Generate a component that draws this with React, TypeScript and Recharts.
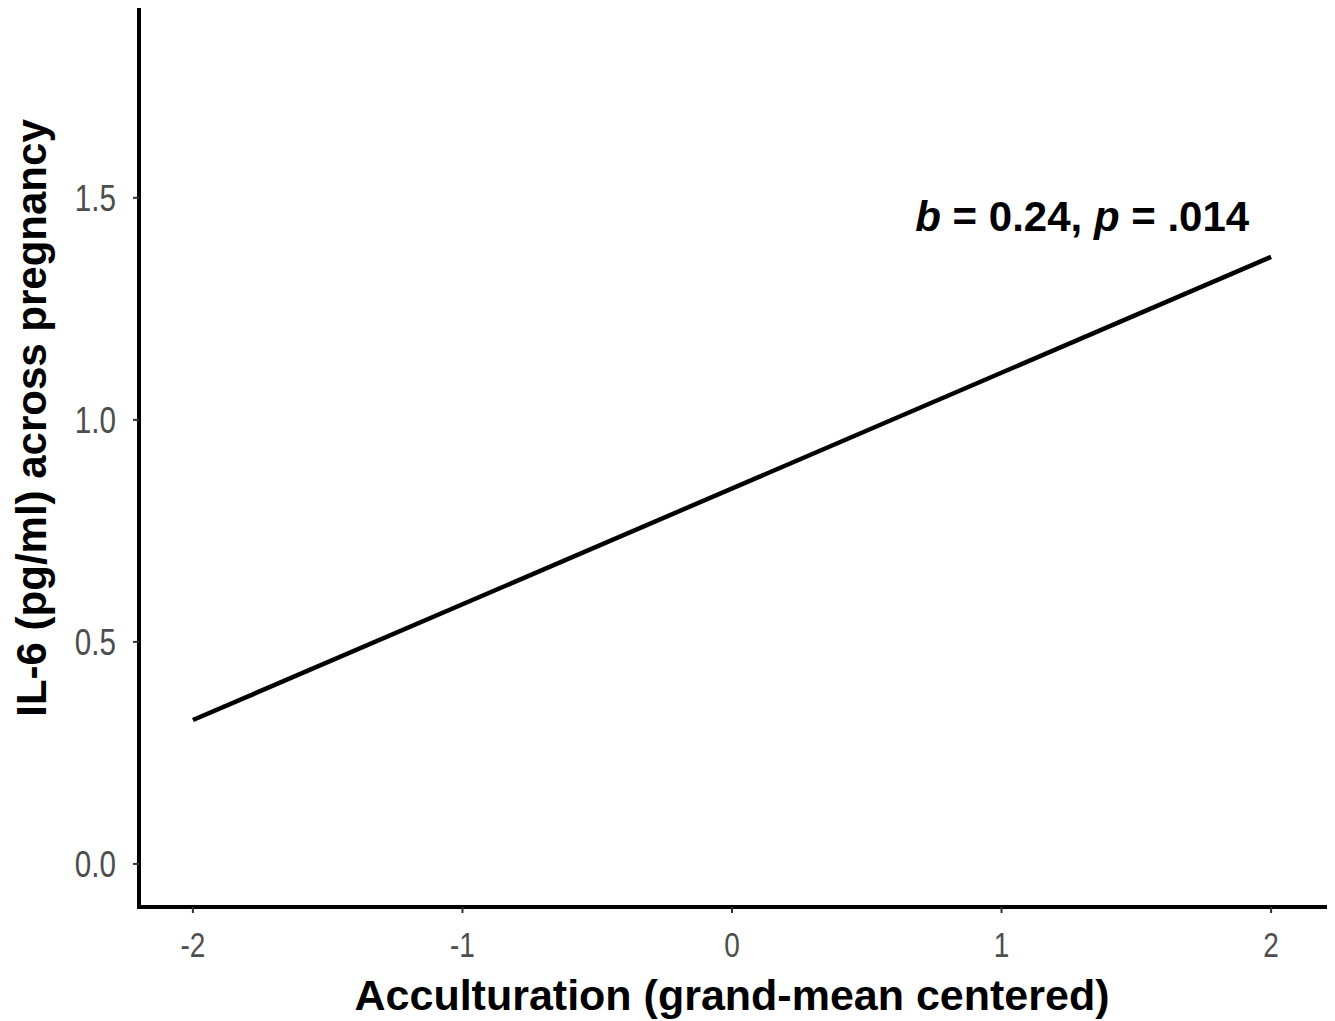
import React from 'react';
import { LineChart, Line, XAxis, YAxis, ReferenceDot, Label } from 'recharts';

// fitted regression line
const acculturation = [-2, 2];
const il6 = [0.324, 1.367];

const xTicks = [-2, -1, 0, 1, 2];
const yTicks = [0, 0.5, 1, 1.5];

const xDomain = [-2.2, 2.2];
const yDomain = [-0.097, 1.923];

const xTitle = 'Acculturation (grand-mean centered)';
const yTitle = 'IL-6 (pg/ml) across pregnancy';

const annotB = '0.24';
const annotP = '.014';
const annotX = 0.68;
const annotY = 1.425;

const data = acculturation.map((x, i) => ({ x, y: il6[i] }));

const FONT = "'Liberation Sans', Arial, Helvetica, sans-serif";
const TICK_COLOR = '#4d4d4d';

const XTick = (props: any) => {
  const { x, y, payload } = props;
  return (
    <text
      transform={`translate(${x},${y}) scale(0.8,1)`}
      textAnchor="middle"
      dy="0.71em"
      fontSize={35}
      fontFamily={FONT}
      fill={TICK_COLOR}
    >
      {String(payload.value)}
    </text>
  );
};

const YTick = (props: any) => {
  const { x, y, payload } = props;
  return (
    <text
      transform={`translate(${x},${y}) scale(0.8,1)`}
      textAnchor="end"
      dy="0.355em"
      fontSize={37}
      fontFamily={FONT}
      fill={TICK_COLOR}
    >
      {Number(payload.value).toFixed(1)}
    </text>
  );
};

const XTitle = (props: any) => {
  const vb = props.viewBox;
  return (
    <text
      x={vb.x + vb.width / 2}
      y={vb.y + 103}
      textAnchor="middle"
      fontSize={43}
      fontWeight="bold"
      fontFamily={FONT}
      fill="#000"
    >
      {xTitle}
    </text>
  );
};

const YTitle = () => (
  <text
    transform="translate(46,418) rotate(-90)"
    textAnchor="middle"
    fontSize={42}
    fontWeight="bold"
    fontFamily={FONT}
    fill="#000"
  >
    {yTitle}
  </text>
);

const Annotation = (props: any) => {
  const vb = props.viewBox;
  return (
    <text x={vb.x} y={vb.y} fontSize={42} fontWeight="bold" fontFamily={FONT} fill="#000">
      <tspan fontStyle="italic">b</tspan>
      {` = ${annotB}, `}
      <tspan fontStyle="italic">p</tspan>
      {` = ${annotP}`}
    </text>
  );
};

export default function App() {
  return (
    <div style={{ position: 'absolute', left: 0, top: 0, width: 1335, height: 1021, background: '#fff' }}>
      <LineChart width={1335} height={1021} data={data} margin={{ top: 10, right: 10, bottom: 0, left: 0 }}>
        <XAxis
          dataKey="x"
          type="number"
          domain={xDomain}
          ticks={xTicks}
          allowDataOverflow
          height={114}
          axisLine={{ stroke: '#000', strokeWidth: 4, strokeLinecap: 'square' }}
          tickLine={{ stroke: '#333', strokeWidth: 2 }}
          tickSize={6}
          tickMargin={19}
          tick={<XTick />}
        >
          <Label content={<XTitle />} />
        </XAxis>
        <YAxis
          type="number"
          domain={yDomain}
          ticks={yTicks}
          allowDataOverflow
          width={139}
          axisLine={{ stroke: '#000', strokeWidth: 4, strokeLinecap: 'square' }}
          tickLine={{ stroke: '#333', strokeWidth: 2 }}
          tickSize={6}
          tickMargin={17}
          tick={<YTick />}
        >
          <Label content={<YTitle />} />
        </YAxis>
        <Line
          dataKey="y"
          type="linear"
          stroke="#000"
          strokeWidth={4.5}
          dot={false}
          activeDot={false}
          isAnimationActive={false}
        />
        <ReferenceDot x={annotX} y={annotY} r={0} fill="none" stroke="none">
          <Label content={<Annotation />} />
        </ReferenceDot>
      </LineChart>
    </div>
  );
}
